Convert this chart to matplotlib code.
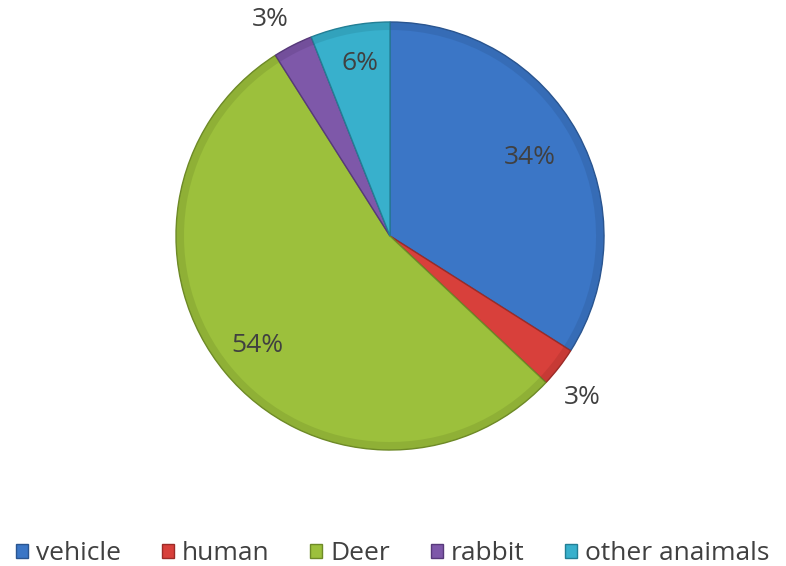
import matplotlib
matplotlib.use("Agg")
import matplotlib.pyplot as plt
from matplotlib.patches import Rectangle

categories = ["vehicle", "human", "Deer", "rabbit", "other anaimals"]
shares = [34, 3, 54, 3, 6]
colors = ["#3b76c6", "#d8403b", "#9cc03c", "#7e58a9", "#38b0cc"]
edges = ["#2a5590", "#9c2b27", "#6e8a27", "#57397a", "#237f95"]

plt.rcParams["font.family"] = ["Open Sans", "DejaVu Sans"]

W, H = 786, 566
fig = plt.figure(figsize=(W / 100, H / 100), dpi=100)
ax = fig.add_axes([0, 0, 1, 1])

cx, cy, r = 390, H - 236, 214
wedges, _ = ax.pie(shares, colors=colors, startangle=90, counterclock=False,
                   center=(cx, cy), radius=r, frame=True,
                   wedgeprops=dict(linewidth=1.0))
for w, ec in zip(wedges, edges):
    w.set_edgecolor(ec)

# darker bevel ring along the rim of every slice
rim, _ = ax.pie(shares, colors=edges, startangle=90, counterclock=False,
                center=(cx, cy), radius=r, frame=True,
                wedgeprops=dict(width=8, linewidth=0, alpha=0.28))

ax.set_xlim(0, W)
ax.set_ylim(0, H)
ax.set_aspect("equal")
ax.axis("off")

# percentage labels: (x, y) in pixel coordinates from the top-left
label_pos = [(530, 158), (582, 397), (257, 345), (270, 20), (360, 64)]
for val, (lx, ly) in zip(shares, label_pos):
    ax.text(lx, H - ly, f"{val}%", ha="center", va="center",
            fontsize=19, color="#404040")

handles = [Rectangle((0, 0), 1, 1, facecolor=c, edgecolor=e) for c, e in zip(colors, edges)]
fig.legend(handles, categories, loc="center", bbox_to_anchor=(0.5, 1 - 554 / H),
           ncol=5, frameon=False, fontsize=19, handlelength=0.45, handleheight=0.45,
           handletextpad=0.3, columnspacing=1.55, labelcolor="#404040")

fig.savefig("out.png", dpi=100, facecolor="white")
